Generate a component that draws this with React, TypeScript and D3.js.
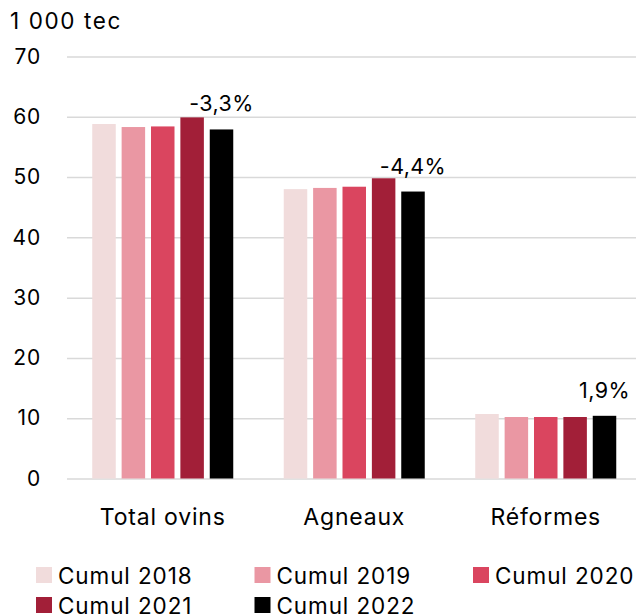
import React, { useEffect, useRef } from 'react';
import * as d3 from 'd3';

const categories = ['Total ovins', 'Agneaux', 'Réformes'];
const seriesNames = ['Cumul 2018', 'Cumul 2019', 'Cumul 2020', 'Cumul 2021', 'Cumul 2022'];
const seriesColors = ['#f1dcdc', '#ea97a3', '#da455f', '#a21f38', '#000000'];

// valeurs par série, dans l'ordre des catégories
const cumul2018 = [58.8, 48.0, 10.7];
const cumul2019 = [58.3, 48.2, 10.2];
const cumul2020 = [58.4, 48.4, 10.2];
const cumul2021 = [59.9, 49.8, 10.2];
const cumul2022 = [57.9, 47.6, 10.4];
const seriesValues = [cumul2018, cumul2019, cumul2020, cumul2021, cumul2022];

const changeLabels = ['-3,3%', '-4,4%', '1,9%'];
const yTicks = [0, 10, 20, 30, 40, 50, 60, 70];
const unitLabel = '1 000 tec';

const W = 636;
const H = 616;
const FONT = 'Inter, "Noto Sans", sans-serif';

export default function App() {
  const svgRef = useRef<SVGSVGElement>(null);

  useEffect(() => {
    const svg = d3.select(svgRef.current);
    svg.selectAll('*').remove();

    const left = 67;
    const right = 641.5;

    const x0 = d3
      .scaleBand<string>()
      .domain(categories)
      .range([left, right])
      .paddingInner(0.2637)
      .paddingOuter(0.13185);

    const x1 = d3
      .scaleBand<string>()
      .domain(seriesNames)
      .range([0, x0.bandwidth()])
      .paddingInner(0.2);

    const y = d3.scaleLinear().domain([0, 70]).range([478.5, 56.5]);

    // axe Y + grille
    const yAxis = d3
      .axisLeft(y)
      .tickValues(yTicks)
      .tickSize(-(right - left))
      .tickPadding(26)
      .tickFormat(d3.format('d'));

    const gy = svg.append('g').attr('transform', `translate(${left},0)`).call(yAxis);
    gy.select('.domain').remove();
    gy.selectAll('.tick line').attr('stroke', '#d9d9d9').attr('stroke-width', 1.5);
    gy.selectAll('.tick text')
      .attr('fill', '#000')
      .attr('font-size', 21)
      .attr('letter-spacing', 0.8)
      .attr('font-family', FONT);

    svg
      .append('text')
      .attr('x', 10)
      .attr('y', 29)
      .attr('font-size', 22.5)
      .attr('letter-spacing', 1.6)
      .attr('font-family', FONT)
      .text(unitLabel);

    // barres
    const groups = svg
      .append('g')
      .selectAll('g')
      .data(categories)
      .join('g')
      .attr('transform', (d) => `translate(${x0(d)},0)`);

    groups
      .selectAll('rect')
      .data((_, i) => seriesNames.map((s, k) => ({ s, k, v: seriesValues[k][i] })))
      .join('rect')
      .attr('x', (d) => x1(d.s)!)
      .attr('y', (d) => y(d.v))
      .attr('width', x1.bandwidth())
      .attr('height', (d) => y(0) - y(d.v))
      .attr('fill', (d) => seriesColors[d.k]);

    // étiquettes d'évolution sur la dernière série
    groups
      .append('text')
      .attr('x', x1(seriesNames[4])! + x1.bandwidth() / 2)
      .attr('y', (_, i) => y(cumul2022[i]) - 18)
      .attr('text-anchor', 'middle')
      .attr('font-size', 21.5)
      .attr('letter-spacing', 0.4)
      .attr('font-family', FONT)
      .text((_, i) => changeLabels[i]);

    // catégories
    svg
      .append('g')
      .selectAll('text')
      .data(categories)
      .join('text')
      .attr('x', (d) => x0(d)! + x0.bandwidth() / 2)
      .attr('y', 525)
      .attr('text-anchor', 'middle')
      .attr('font-size', 23)
      .attr('letter-spacing', 0.8)
      .attr('font-family', FONT)
      .text((d) => d);

    // légende
    const legend = svg
      .append('g')
      .selectAll('g')
      .data(seriesNames)
      .join('g')
      .attr('transform', (_, i) => `translate(${36 + (i % 3) * 218.5},${567 + Math.floor(i / 3) * 30})`);

    legend
      .append('rect')
      .attr('width', 16)
      .attr('height', 16)
      .attr('fill', (_, i) => seriesColors[i]);

    legend
      .append('text')
      .attr('x', 22)
      .attr('y', 17)
      .attr('font-size', 22.5)
      .attr('letter-spacing', 0.9)
      .attr('font-family', FONT)
      .text((d) => d);
  }, []);

  return (
    <svg
      ref={svgRef}
      width={W}
      height={H}
      style={{ position: 'absolute', left: 0, top: 0, background: '#fff' }}
    />
  );
}
